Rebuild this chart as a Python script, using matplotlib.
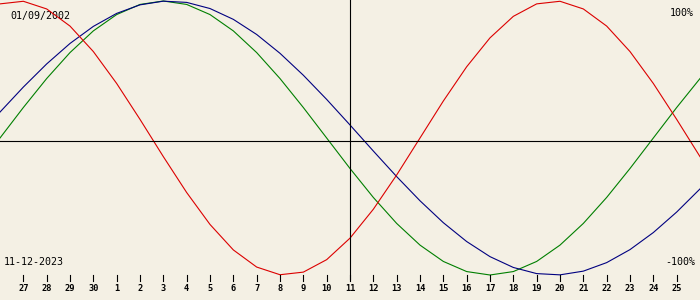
import matplotlib
matplotlib.use("Agg")
import matplotlib.pyplot as plt
import matplotlib.transforms as mtransforms

# Day offsets relative to the selected date (11-12-2023)
day_offsets = list(range(-15, 16))

# Biorhythm values (fraction of 100%)
physical = [0.979, 0.998, 0.942, 0.817, 0.631, 0.398, 0.136, -0.136, -0.398, -0.631,
            -0.817, -0.942, -0.998, -0.979, -0.888, -0.731, -0.520, -0.270, 0.0, 0.270,
            0.520, 0.731, 0.888, 0.979, 0.998, 0.942, 0.817, 0.631, 0.398, 0.136, -0.136]
emotional = [0.0, 0.2225, 0.4339, 0.6235, 0.7818, 0.9010, 0.9749, 1.0, 0.9749, 0.9010,
             0.7818, 0.6235, 0.4339, 0.2225, 0.0, -0.2225, -0.4339, -0.6235, -0.7818, -0.9010,
             -0.9749, -1.0, -0.9749, -0.9010, -0.7818, -0.6235, -0.4339, -0.2225, 0.0, 0.2225, 0.4339]
intellectual = [0.1893, 0.3717, 0.5406, 0.6901, 0.8146, 0.9096, 0.9718, 0.9989, 0.9898, 0.9450,
                0.8660, 0.7557, 0.6182, 0.4582, 0.2817, 0.0951, -0.0951, -0.2817, -0.4582, -0.6182,
                -0.7557, -0.8660, -0.9450, -0.9898, -0.9989, -0.9718, -0.9096, -0.8146, -0.6901, -0.5406, -0.3717]

tick_offsets = list(range(-14, 15))
tick_labels = ["27", "28", "29", "30", "1", "2", "3", "4", "5", "6", "7", "8", "9", "10",
               "11", "12", "13", "14", "15", "16", "17", "18", "19", "20", "21", "22", "23", "24", "25"]

birth_text = "01/09/2002"
date_text = "11-12-2023"
top_label = "100%"
bottom_label = "-100%"

W, H = 700, 300
bg = "#f4f0e4"
fig = plt.figure(figsize=(W / 100, H / 100), dpi=100, facecolor=bg)
ax = fig.add_axes([0, 0, 1, 1], facecolor=bg)
ax.set_axis_off()

# pixel mapping: x pixel = 350 + d*700/30 ; value 1 -> y=1, -1 -> y=275
ax.set_xlim(-15, 15)
ax.set_ylim((138 - 300) / 137, 138 / 137)

lw = 0.8
ax.plot(day_offsets, emotional, color="#007f00", lw=lw, zorder=2)
ax.plot(day_offsets, intellectual, color="#000080", lw=lw, zorder=3)
ax.plot(day_offsets, physical, color="#dc0000", lw=lw, zorder=4)

def ypix(p):
    return 1 - p / H

# axes lines
ax.axhline(y=(138 - 140.5) / 137, color="black", lw=lw, zorder=5)
trans = mtransforms.blended_transform_factory(ax.transData, ax.transAxes)
ax.plot([0, 0], [ypix(279), 1.0], color="black", lw=lw, transform=trans, zorder=5)

mono = "DejaVu Sans Mono"
for d, lab in zip(tick_offsets, tick_labels):
    ax.plot([d, d], [ypix(281), ypix(275)], color="black", lw=lw, transform=trans, zorder=5)
    ax.text(d, ypix(288.5), lab, transform=trans, ha="center", va="center",
            fontsize=6.2, family=mono, fontweight="bold", color="black")

ax.text(10 / W, ypix(16.5), birth_text, transform=ax.transAxes, ha="left", va="center",
        fontsize=7.2, family=mono, color="black")
ax.text(4 / W, ypix(262), date_text, transform=ax.transAxes, ha="left", va="center",
        fontsize=7.2, family=mono, color="black")
ax.text(694 / W, ypix(13), top_label, transform=ax.transAxes, ha="right", va="center",
        fontsize=7.2, family=mono, color="black")
ax.text(695 / W, ypix(262), bottom_label, transform=ax.transAxes, ha="right", va="center",
        fontsize=7.2, family=mono, color="black")

fig.savefig("out.png", dpi=100, facecolor=bg)
